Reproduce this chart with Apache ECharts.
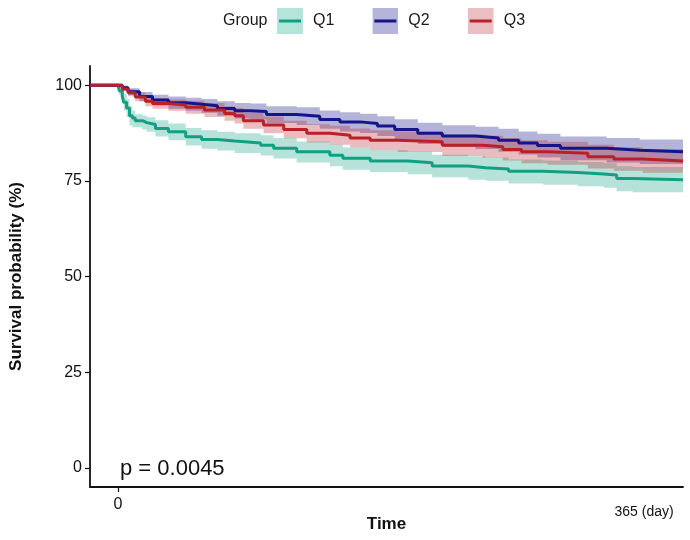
<!DOCTYPE html>
<html>
<head>
<meta charset="utf-8">
<script src="https://cdn.jsdelivr.net/npm/echarts@6/dist/echarts.min.js"></script>
<style>html,body{margin:0;padding:0;background:#fff;}#c{width:690px;height:540px;}</style>
</head>
<body>
<div id="c"></div>
<script>
// ---- data ----
const groups = ['Q1', 'Q2', 'Q3'];
const xTickLabels = ['0', '365 (day)'];
const xTickValues = [0, 365];
const yTickValues = [0, 25, 50, 75, 100];

const timesQ1 = [0,1,3,4,6,8,10,12,17,20,26,35,47,58,69,81,99,108,124,147,156,175,201,218,243,255,271,295,319,337,346,357,392];
const survQ1  = [100,98.5,97,95.5,94,92,91.4,90.7,90.2,89.7,88.7,87.8,86.5,85.8,85.4,84.9,84.3,83.5,82.6,81.7,80.9,80.2,79.7,78.9,78.4,78.1,77.5,77.2,76.8,76.5,75.6,75.3,75.3];
const upperQ1 = [100,99.6,98.7,97.6,96.3,94.5,93.3,92.4,92.0,91.6,90.8,90.0,88.8,88.2,87.8,87.4,86.9,86.2,85.3,84.5,83.7,83.0,82.6,81.8,81.4,81.1,80.6,80.3,79.9,79.6,78.8,78.6,78.6];
const lowerQ1 = [100,97.4,95.3,93.4,91.7,89.5,89.0,89.0,88.4,87.8,86.6,85.6,84.2,83.4,82.9,82.3,81.6,80.8,79.8,78.8,77.9,77.3,76.7,75.9,75.3,75.0,74.3,74.0,73.6,73.2,72.3,72.0,72.0];

const timesQ2 = [0,3,7,15,24,35,47,58,69,81,92,103,124,140,154,168,180,192,208,225,248,264,278,291,307,339,362,392];
const survQ2  = [100,99.3,98.3,97,96.1,95.4,95,94.6,93.9,93.3,93.1,92.3,91.9,91,90.4,90,89.3,88.4,87.4,86.7,86.2,85.6,84.9,84.2,83.5,83,82.6,82.6];
const upperQ2 = [100,99.9,99.2,98.2,97.5,97.0,96.7,96.4,95.8,95.3,95.2,94.5,94.2,93.4,92.9,92.5,91.9,91.1,90.2,89.5,89.1,88.6,87.9,87.3,86.6,86.2,85.8,85.8];
const lowerQ2 = [100,98.7,97.4,95.8,94.7,93.8,93.3,92.8,92.0,91.3,91.0,90.1,89.6,88.6,87.9,87.5,86.7,85.7,84.6,83.9,83.3,82.6,81.9,81.1,80.4,79.8,79.4,79.4];

const timesQ3 = [0,3,7,12,19,24,35,47,60,74,81,87,101,115,131,147,161,175,194,225,253,267,280,298,326,344,364,392];
const survQ3  = [100,99,98,96.9,95.8,95.2,94.8,94.2,93.5,92.6,92.0,90.7,89.6,88.4,87.4,86.9,86.2,85.6,85.2,84.3,83.9,83.2,82.6,82.2,81.3,80.7,80.2,80.2];
const upperQ3 = [100,99.6,98.9,98.0,97.1,96.6,96.3,95.9,95.3,94.5,94.0,92.8,91.8,90.7,89.8,89.4,88.7,88.2,87.9,87.1,86.8,86.1,85.6,85.2,84.4,83.8,83.3,83.3];
const lowerQ3 = [100,98.4,97.1,95.8,94.5,93.8,93.3,92.5,91.7,90.7,90.0,88.6,87.4,86.1,85.0,84.4,83.7,83.0,82.5,81.5,81.0,80.3,79.6,79.2,78.2,77.6,77.1,77.1];

const pValueText = 'p = 0.0045';

// ---- styling ----
const X_MIN = -19.4, X_MAX = 392;
const lineColors = ['#12a083', '#15158a', '#b8202a'];
const bandColors = ['rgba(18,160,131,0.31)', 'rgba(21,21,138,0.32)', 'rgba(184,32,42,0.30)'];
const bandSolid  = ['#b3e5da', '#b5b5dc', '#ebbfc1'];
const FONT = 'Liberation Sans, Arial, sans-serif';

const all = [
  {t: timesQ1, s: survQ1, u: upperQ1, l: lowerQ1},
  {t: timesQ2, s: survQ2, u: upperQ2, l: lowerQ2},
  {t: timesQ3, s: survQ3, u: upperQ3, l: lowerQ3}
];

const series = [];
all.forEach((g, i) => {
  const xs = [X_MIN].concat(g.t);
  const lo = [100].concat(g.l);
  const up = [100].concat(g.u);
  const pts = xs.map((x, k) => [x, lo[k], up[k]]);
  series.push({
    name: groups[i] + '_band', type: 'custom', silent: true, z: 1,
    encode: {x: 0, y: [1, 2]},
    data: pts,
    renderItem: function (params, api) {
      if (params.dataIndex !== 0) return null;
      const top = [], bot = [];
      for (let k = 0; k < pts.length; k++) {
        const x0 = pts[k][0];
        const x1 = k + 1 < pts.length ? pts[k + 1][0] : pts[k][0];
        top.push(api.coord([x0, pts[k][2]]));
        top.push(api.coord([x1, pts[k][2]]));
        bot.push(api.coord([x0, pts[k][1]]));
        bot.push(api.coord([x1, pts[k][1]]));
      }
      const poly = top.concat(bot.reverse());
      return {type: 'polygon', shape: {points: poly}, style: {fill: bandColors[i], stroke: null}};
    }
  });
});
all.forEach((g, i) => {
  const xs = [X_MIN].concat(g.t);
  const sv = [100].concat(g.s);
  series.push({
    name: groups[i], type: 'line', step: 'end', symbol: 'none', z: 3,
    color: lineColors[i],
    lineStyle: {color: lineColors[i], width: 3},
    data: xs.map((x, k) => [x, sv[k]])
  });
});

function iconFor(i) {
  const svg = "<svg xmlns='http://www.w3.org/2000/svg' width='26' height='26'>" +
    "<rect width='26' height='26' fill='" + bandSolid[i] + "'/>" +
    "<rect x='2' y='11.5' width='22' height='3' fill='" + lineColors[i] + "'/></svg>";
  return 'image://data:image/svg+xml;charset=utf-8,' + encodeURIComponent(svg);
}

const chart = echarts.init(document.getElementById('c'), null, {renderer: 'canvas'});
chart.setOption({
  animation: false,
  backgroundColor: '#fff',
  textStyle: {fontFamily: FONT},
  grid: {left: 90, right: 7, top: 66, bottom: 53, containLabel: false, outerBoundsMode: 'none'},
  legend: {
    data: groups.map((n, i) => ({name: n, icon: iconFor(i)})),
    left: 277, top: 8, padding: 0, itemWidth: 26, itemHeight: 26, itemGap: 38,
    selectedMode: false,
    textStyle: {fontFamily: FONT, fontSize: 16, color: '#1a1a1a', padding: [0, 0, 0, 5]}
  },
  graphic: [
    {type: 'text', left: 223, top: 13, style: {text: 'Group', font: '16px ' + FONT, fill: '#1a1a1a'}},
    {type: 'text', left: 120, top: 458, style: {text: pValueText, font: '22px ' + FONT, fill: '#111'}}
  ],
  xAxis: {
    type: 'value', min: X_MIN, max: X_MAX,
    name: 'Time', nameLocation: 'middle', nameGap: 29, nameMoveOverlap: false,
    nameTextStyle: {fontFamily: FONT, fontSize: 17, fontWeight: 'bold', color: '#111'},
    axisLine: {show: true, onZero: false, lineStyle: {color: '#111', width: 1.8}},
    axisTick: {show: true, length: 5, customValues: [0], lineStyle: {color: '#111', width: 1.2}},
    axisLabel: {
      customValues: xTickValues,
      margin: 10,
      formatter: function (v) {
        const k = xTickValues.indexOf(v);
        if (k === 0) return '{a|' + xTickLabels[0] + '}';
        if (k === 1) return '{b|' + xTickLabels[1] + '}';
        return '';
      },
      rich: {
        a: {fontFamily: FONT, fontSize: 16, color: '#111'},
        b: {fontFamily: FONT, fontSize: 14, color: '#111', padding: [8, 0, 0, 0]}
      }
    },
    splitLine: {show: false}
  },
  yAxis: {
    type: 'value', min: -5, max: 105,
    name: 'Survival probability (%)', nameLocation: 'middle', nameGap: 65, nameRotate: 90,
    nameMoveOverlap: false,
    nameTextStyle: {fontFamily: FONT, fontSize: 17, fontWeight: 'bold', color: '#111'},
    axisLine: {show: true, onZero: false, lineStyle: {color: '#111', width: 1.8}},
    axisTick: {show: true, length: 5, customValues: yTickValues, lineStyle: {color: '#111', width: 1.2}},
    axisLabel: {customValues: yTickValues, margin: 8, fontFamily: FONT, fontSize: 16, color: '#111'},
    splitLine: {show: false}
  },
  series: series
});
</script>
</body>
</html>
